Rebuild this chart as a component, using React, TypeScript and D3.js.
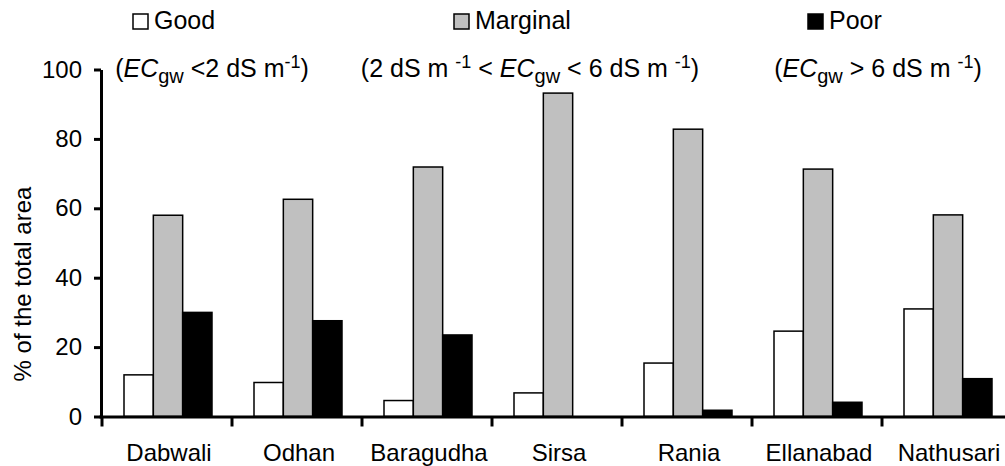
import * as d3 from 'd3';
import React, { useRef, useEffect } from 'react';

const categories = ["Dabwali", "Odhan", "Baragudha", "Sirsa", "Rania", "Ellanabad", "Nathusari"];
const series = ["Good", "Marginal", "Poor"];
const good = [12, 9.8, 4.6, 6.8, 15.4, 24.6, 31];
const marginal = [58, 62.6, 71.9, 93.2, 82.8, 71.3, 58.1];
const poor = [30, 27.6, 23.5, 0, 1.8, 4.1, 10.9];
const yTicks = [0, 20, 40, 60, 80, 100];

const colors = { Good: "#ffffff", Marginal: "#c0c0c0", Poor: "#000000" };
const FONT = "'Liberation Sans', Arial, sans-serif";

function App() {
    const ref = useRef(null);

    useEffect(() => {
        const W = 1005, H = 466;
        const svg = d3.select(ref.current)
            .attr("width", W)
            .attr("height", H)
            .style("font-family", FONT);
        svg.selectAll("*").remove();

        const x0 = d3.scaleBand().domain(categories).range([102, 1012]);
        const x1 = d3.scaleBand().domain(series).range([22, 110]);
        const y = d3.scaleLinear().domain([0, 100]).range([416.5, 69.5]);

        const rows = categories.map((c, i) => ({
            cat: c,
            vals: [
                { key: "Good", v: good[i] },
                { key: "Marginal", v: marginal[i] },
                { key: "Poor", v: poor[i] },
            ]
        }));

        // bars
        const g = svg.append("g");
        g.selectAll("g.grp")
            .data(rows)
            .join("g")
            .attr("class", "grp")
            .attr("transform", d => `translate(${x0(d.cat)},0)`)
            .selectAll("rect")
            .data(d => d.vals.filter(v => v.v > 0))
            .join("rect")
            .attr("x", d => x1(d.key))
            .attr("width", x1.bandwidth())
            .attr("y", d => y(d.v))
            .attr("height", d => y(0) - y(d.v))
            .attr("fill", d => colors[d.key])
            .attr("stroke", "#000")
            .attr("stroke-width", 1.5);

        // y axis
        const yAxis = svg.append("g")
            .attr("transform", "translate(101,0)")
            .call(d3.axisLeft(y).tickValues(yTicks).tickSize(7).tickSizeOuter(0).tickPadding(12));
        yAxis.select(".domain").attr("stroke", "#000").attr("stroke-width", 3);
        yAxis.selectAll(".tick line").attr("stroke", "#000").attr("stroke-width", 3);
        yAxis.selectAll(".tick text")
            .attr("font-size", 24)
            .attr("font-family", FONT)
            .attr("fill", "#000");

        // x axis
        const xa = svg.append("g");
        xa.append("line")
            .attr("x1", 99.5).attr("x2", W)
            .attr("y1", y(0) + 0.5).attr("y2", y(0) + 0.5)
            .attr("stroke", "#000").attr("stroke-width", 3);
        xa.selectAll("line.tk")
            .data(categories)
            .join("line")
            .attr("class", "tk")
            .attr("x1", d => x0(d)).attr("x2", d => x0(d))
            .attr("y1", y(0)).attr("y2", y(0) + 10)
            .attr("stroke", "#000").attr("stroke-width", 3);
        xa.selectAll("text")
            .data(categories)
            .join("text")
            .attr("x", d => x0(d) + x0.bandwidth() / 2 + 2)
            .attr("y", 461)
            .attr("text-anchor", "middle")
            .attr("font-size", 24)
            .text(d => d);

        // y title
        svg.append("text")
            .attr("transform", "translate(31,284) rotate(-90)")
            .attr("text-anchor", "middle")
            .attr("font-size", 24)
            .text("% of the total area");

        // legend
        const legend = [
            { key: "Good", sx: 133, cx: 212, parts: [["(", ""], ["EC", "i"], ["gw", "sub"], [" <2 dS m", ""], ["-1", "sup"], [")", ""]] },
            { key: "Marginal", sx: 454, cx: 530, parts: [["(2 dS m ", ""], ["-1", "sup"], [" < ", ""], ["EC", "i"], ["gw", "sub"], [" < 6 dS m ", ""], ["-1", "sup"], [")", ""]] },
            { key: "Poor", sx: 808, cx: 878, parts: [["(", ""], ["EC", "i"], ["gw", "sub"], [" > 6 dS m ", ""], ["-1", "sup"], [")", ""]] },
        ];
        const lg = svg.append("g");
        legend.forEach(l => {
            lg.append("rect")
                .attr("x", l.sx).attr("y", 14)
                .attr("width", 15).attr("height", 15)
                .attr("fill", colors[l.key])
                .attr("stroke", "#000").attr("stroke-width", 1.5);
            lg.append("text")
                .attr("x", l.sx + 21).attr("y", 29)
                .attr("font-size", 25)
                .text(l.key);
            const t = lg.append("text")
                .attr("x", l.cx).attr("y", 77)
                .attr("text-anchor", "middle")
                .attr("font-size", 25);
            let shift = 0;
            l.parts.forEach(([s, kind]) => {
                const sp = t.append("tspan").text(s);
                let target = 0;
                if (kind === "sub") { target = 6; sp.attr("font-size", 20); }
                if (kind === "sup") { target = -9; sp.attr("font-size", 18); }
                if (kind === "i") sp.attr("font-style", "italic");
                if (target !== shift) { sp.attr("dy", target - shift); shift = target; }
            });
        });
    }, []);

    return (
        <div style={{ position: "absolute", left: 0, top: 0 }}>
            <svg ref={ref}></svg>
        </div>
    );
}

export default App;
